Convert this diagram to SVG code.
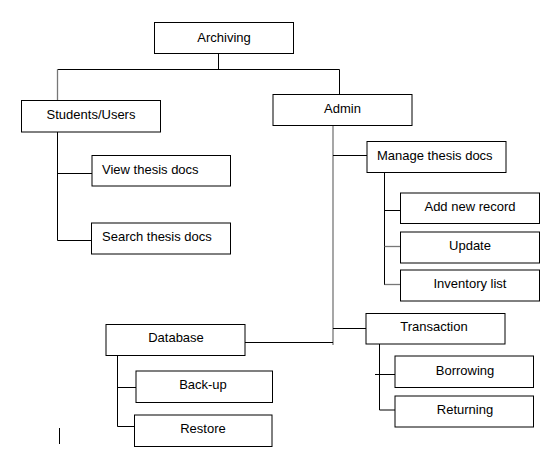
<svg xmlns="http://www.w3.org/2000/svg" width="553" height="459" viewBox="0 0 553 459">
<style>
rect{fill:#fff;stroke:#000;stroke-width:1}
text{font-family:"Liberation Sans",Arial,sans-serif;font-size:13px;fill:#000}
.c{text-anchor:middle}
#connectors line{stroke:#000;stroke-width:1}
#connectors line.g{stroke:#777;stroke-width:1.3}
</style>
<rect x="0" y="0" width="553" height="459" style="stroke:none"/>
<g id="connectors">
<line x1="218.5" y1="53" x2="218.5" y2="69.5"/>
<line x1="57.5" y1="69.5" x2="339.5" y2="69.5"/>
<line class="g" x1="57.5" y1="69.5" x2="57.5" y2="100"/>
<line x1="339.5" y1="69.5" x2="339.5" y2="94"/>
<line x1="57.5" y1="132" x2="57.5" y2="240.5"/>
<line x1="57.5" y1="173.5" x2="92" y2="173.5"/>
<line x1="57.5" y1="240.5" x2="91" y2="240.5"/>
<line class="g" x1="333" y1="125" x2="333" y2="345"/>
<line x1="333" y1="155.5" x2="367" y2="155.5"/>
<line x1="384.5" y1="172" x2="384.5" y2="285"/>
<line x1="384.5" y1="210.5" x2="400" y2="210.5"/>
<line class="g" x1="384.5" y1="246.5" x2="400" y2="246.5"/>
<line class="g" x1="384.5" y1="284.5" x2="400" y2="284.5"/>
<line x1="333" y1="328.5" x2="366" y2="328.5"/>
<line x1="245" y1="342.5" x2="333" y2="342.5"/>
<line x1="379.5" y1="344" x2="379.5" y2="410"/>
<line x1="375" y1="374.5" x2="395" y2="374.5"/>
<line x1="379.5" y1="410" x2="395" y2="410"/>
<line x1="117.5" y1="355.5" x2="117.5" y2="426.5"/>
<line x1="117.5" y1="387.5" x2="136" y2="387.5"/>
<line x1="117.5" y1="426.5" x2="134.5" y2="426.5"/>
<line x1="59.5" y1="428" x2="59.5" y2="444"/>
</g>
<g id="archiving"><rect x="154.5" y="22.5" width="139" height="31"/><text class="c" x="224" y="41.5">Archiving</text></g>
<g id="students"><rect x="21.5" y="100.5" width="139" height="31.5"/><text class="c" x="91" y="119">Students/Users</text></g>
<g id="admin"><rect x="273" y="94.5" width="139" height="31"/><text class="c" x="342.5" y="113">Admin</text></g>
<g id="view"><rect x="92" y="155.5" width="138.5" height="30.5"/><text x="102" y="174">View thesis docs</text></g>
<g id="search"><rect x="91.5" y="223" width="139" height="31"/><text x="102" y="241">Search thesis docs</text></g>
<g id="manage"><rect x="367" y="141.5" width="139" height="31"/><text x="377" y="160">Manage thesis docs</text></g>
<g id="add"><rect x="400.5" y="193" width="139" height="30.5"/><text class="c" x="470" y="211">Add new record</text></g>
<g id="update"><rect x="400.5" y="232" width="139" height="31"/><text class="c" x="470" y="250">Update</text></g>
<g id="inventory"><rect x="400.5" y="270" width="139" height="31"/><text class="c" x="470" y="288">Inventory list</text></g>
<g id="transaction"><rect x="366" y="313.5" width="139" height="30.5"/><text class="c" x="434" y="331">Transaction</text></g>
<g id="borrowing"><rect x="395" y="356" width="138.5" height="31.5"/><text class="c" x="465" y="375">Borrowing</text></g>
<g id="returning"><rect x="395" y="396" width="138.5" height="31"/><text class="c" x="465" y="414">Returning</text></g>
<g id="database"><rect x="106" y="324.5" width="139" height="31"/><text class="c" x="176" y="342">Database</text></g>
<g id="backup"><rect x="136" y="371" width="136.5" height="31.5"/><text class="c" x="203" y="389">Back-up</text></g>
<g id="restore"><rect x="134.5" y="415" width="137.5" height="31.5"/><text class="c" x="203" y="433">Restore</text></g>
</svg>
